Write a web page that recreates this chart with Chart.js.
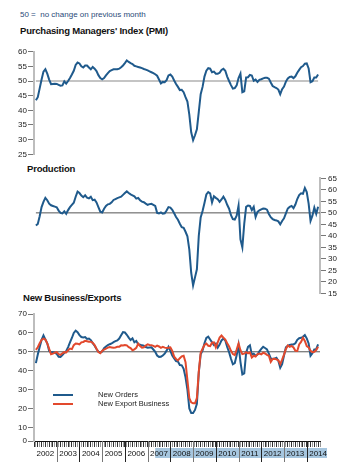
<!DOCTYPE html>
<html>
<head>
<meta charset="utf-8">
<script src="https://cdn.jsdelivr.net/npm/chart.js@4.4.1/dist/chart.umd.min.js"></script>
<style>
  body { margin: 0; width: 351px; height: 472px; position: relative; overflow: hidden; background: #fff;
         font-family: "Liberation Sans", Arial, sans-serif; }
  canvas { position: absolute; left: 0; }
  .t { position: absolute; white-space: nowrap; line-height: 1; }
  .title { font-weight: bold; font-size: 9.5px; letter-spacing: -0.2px; color: #111; }
  .note { font-size: 8px; color: #2b4a78; }
  .key { position: absolute; width: 20px; height: 2px; }
  .keytxt { position: absolute; white-space: nowrap; line-height: 1; font-size: 7.5px; color: #222; }
</style>
</head>
<body>
<div class="t note" style="left:20px;top:11px">50 = &nbsp;no change on previous month</div>
<div class="t title" style="left:20px;top:26px">Purchasing Managers' Index (PMI)</div>
<div class="t title" style="left:27px;top:164px">Production</div>
<div class="t title" style="left:23px;top:293px">New Business/Exports</div>

<canvas id="pmiChart" width="351" height="125" style="top:40px"></canvas>
<canvas id="prodChart" width="351" height="140" style="top:166px"></canvas>
<canvas id="nbChart" width="351" height="172" style="top:300px"></canvas>

<div class="key" style="left:53px;top:394px;background:#1f5a8c"></div>
<div class="keytxt" style="left:98px;top:391px">New Orders</div>
<div class="key" style="left:53px;top:403px;background:#e2492d"></div>
<div class="keytxt" style="left:98px;top:400px">New Export Business</div>

<script>
// months counted from Jan 2002 (0); series start Feb 2002
const firstMonth = 1;
const years = ["2002", "2003", "2004", "2005", "2006", "2007", "2008",
  "2009", "2010", "2011", "2012", "2013", "2014"];

const pmi = [
  43.4, 44.5, 47.5, 50.5, 53.2, 54, 52.5, 50.5, 48.9, 49,
  49.1, 49, 48.7, 48.4, 48.5, 49.9, 49.1, 50, 51, 52.2,
  53.5, 55.5, 56.3, 56, 55, 54.6, 55.3, 55.3, 54.6, 54,
  54.8, 54.2, 53.4, 52, 51, 50.6, 51, 51.9, 52.7, 53.4,
  53.7, 54, 54, 54, 54.2, 54.7, 55.3, 56.1, 57, 56.5,
  56.1, 55.8, 55.2, 55, 54.8, 54.6, 54.4, 54.1, 53.9, 53.6,
  53.3, 53, 52.7, 52.3, 51.8, 50.5, 49.2, 49.7, 49.6, 50.3,
  51.9, 52.2, 51.5, 50.2, 49, 48, 46.9, 47, 46.2, 44.5,
  43, 38.5, 32.5, 29.8, 31.5, 33.5, 39.5, 45.5, 48, 51.5,
  53.5, 54.4, 54.2, 53, 53.2, 52.5, 52.5, 52.8, 53.8, 54.2,
  53.5, 51.5, 50, 48.6, 47.4, 47.6, 48.5, 51, 52.5, 46.2,
  46.5, 51.2, 51.3, 52.1, 51.9, 50.1, 50.5, 49.7, 50.4, 50.6,
  50.9, 51.1, 51.1, 50.8, 49.5, 48.3, 47.9, 47.6, 47.1, 45.5,
  47.2, 48.1, 49.8, 50.9, 51.4, 51.5, 51, 51.6, 52.8, 53.8,
  54.7, 55.1, 55.9, 56, 54.3, 49.6, 49.9, 51.2, 51.2, 52.2,
];

const production = [
  44.5, 45.2, 48.5, 52.5, 54.8, 56.5, 55.5, 54, 53.3, 53,
  52.7, 52.4, 51, 50, 49.8, 50.7, 49.6, 51.2, 52.5, 53.5,
  54.4, 57, 59.2, 58.6, 57.5, 56.8, 57.6, 56.6, 56.3, 57,
  55.5, 55.7, 54.5, 52.5, 50.5, 50.2, 51.8, 53, 53.7, 53.9,
  54.6, 55.6, 56, 56.4, 56.7, 57, 57.8, 58.6, 59.3, 58.6,
  58, 57.6, 57.2, 56.2, 56.5, 55.5, 54.9, 54.6, 54, 53.5,
  53.8, 53.9, 53.5, 53, 50, 49.8, 50.2, 49.6, 49.8, 51,
  52.5, 52.3, 51.3, 49.8, 48.2, 47, 45.3, 43.8, 43.5, 41.8,
  39.8, 34, 24, 18.5, 22, 25.5, 40, 48, 50.8, 54.3,
  58, 59, 58.5, 54.5, 57.2, 56.5, 55.9, 54.8, 55.8, 57,
  55.6, 53.5, 51.8, 49, 47.3, 47.1, 48.8, 53.2, 38.5, 35,
  45.2, 52.6, 53.2, 53, 51.2, 52.6, 48.2, 50.4, 51.1, 51.5,
  51.9, 51.8, 51.4, 49.5, 48.1, 47.3, 46.9, 46.7, 46.3, 45,
  46.5, 47.6, 49.8, 51.9, 52.6, 53, 52, 53.6, 56, 57.7,
  58.5, 58.3, 60.8, 59, 54, 46.5, 48.8, 52.3, 49.6, 52.7,
];

const newOrders = [
  44, 48.5, 52.5, 56.3, 58.6, 56.5, 54.5, 50.5, 49.7, 49.7,
  49.5, 48.8, 47.4, 47.3, 48.2, 49.4, 50.3, 52.5, 55, 57.3,
  60, 61.2, 60.4, 58.8, 57.8, 57.6, 57.8, 56.8, 57, 56.2,
  54.6, 53.2, 51.5, 50, 49.5, 50.1, 51.9, 52.8, 53.5, 54,
  54.4, 55.1, 55.6, 56, 57, 58.7, 60.4, 60.2, 59, 57.5,
  56.2, 57.1, 55, 55.7, 54, 53.7, 53.4, 53.2, 52.5, 52.1,
  52.3, 52.4, 51.2, 50, 48, 47.3, 47.4, 48, 49, 50.6,
  52.6, 50.5, 48, 46.5, 45.1, 44.8, 43, 42.8, 41, 36.5,
  30, 20, 17.6, 17.6, 19.2, 22.5, 39, 48.6, 50.7, 54.5,
  57.3, 58, 56.5, 55, 53.5, 54.3, 52.2, 53.8, 56, 57,
  56, 52.5, 49.8, 46.3, 43.4, 44, 48.2, 53.6, 44.7, 38,
  38.6, 49.5, 52.6, 53.4, 48.5, 49, 47.9, 48.5, 50.2, 51.5,
  52.6, 52, 51.3, 49, 46.5, 46.2, 46.4, 46.8, 45.2, 41.5,
  43.5, 48, 52.3, 53.1, 53.6, 53.9, 53.9, 54.5, 56.3, 57.2,
  57.4, 57.9, 58.8, 57.1, 54.4, 47.9, 49.2, 51.3, 51.4, 53.9,
];

const newExports = [
  51, 52.4, 54.5, 56.3, 57, 56.5, 54.5, 51.5, 48.7, 49,
  49.5, 49.8, 48.7, 48.4, 49.2, 49.8, 49.7, 50.8, 51.7, 51.4,
  53.5, 54.4, 54.2, 53.9, 55, 55.2, 55.8, 55.6, 55.3, 55.3,
  54.7, 53.5, 51.6, 49.8, 49.2, 50.5, 51.2, 51.7, 52.2, 52.5,
  52.3, 52.1, 52.3, 52.6, 52.6, 53.4, 53.3, 53.6, 53.4, 52.4,
  51.9, 50.8, 51.3, 52.1, 54.3, 53, 52.2, 52.4, 53.3, 53.9,
  53.6, 53.5, 53.1, 52.6, 53.3, 52.8, 52.1, 52.6, 52.2, 52,
  52.1, 52.3, 50.5, 47.4, 46.2, 45.4, 46.6, 47.6, 47.9, 44.5,
  35, 25.5, 23.2, 22.7, 22.7, 25.5, 39.5, 49.5, 51.6, 53.6,
  54.3, 53.2, 53, 54.8, 55, 52.3, 55, 57.5, 58.6, 57.5,
  56.4, 54.5, 52.8, 50.5, 48.8, 48.3, 51.2, 54.4, 50.8, 48.8,
  49, 49.8, 49.2, 49.7, 47, 47.9, 47.5, 48.7, 49, 48.6,
  49.5, 49.1, 48.4, 47.9, 44.6, 46.2, 46.3, 46, 45.5, 43.5,
  45.8, 48.5, 51.5, 53.3, 52.6, 53.1, 52.3, 50.5, 50.4, 53.9,
  55.2, 57.4, 55.7, 53, 52.3, 50.5, 49.8, 50, 50.9, 52.6,
];

const noChange = 50;
const lastMonth = 151;
const shadeFrom = 64;
const shadeTo = 154.7;

Chart.defaults.font.family = '"Liberation Sans", Arial, sans-serif';
Chart.defaults.font.size = 8;
Chart.defaults.color = "#222";

const toPoints = (arr) => arr.map((v, i) => ({ x: firstMonth + i, y: v }));
const flat = (from, to) => [{ x: from, y: noChange }, { x: to, y: noChange }];

const line = (label, data, color, width, order) => ({
  label,
  data,
  borderColor: color,
  borderWidth: width,
  pointRadius: 0,
  tension: 0,
  order,
});

const yAxis = (min, max, position, width, step, pad, cb) => ({
  type: "linear",
  position,
  min,
  max,
  border: { color: "#bdbdbd", width: 2 },
  grid: { drawOnChartArea: false, tickLength: 6, color: "#777" },
  ticks: { stepSize: step, padding: pad, autoSkip: false, callback: cb },
  afterFit: (scale) => { scale.width = width; },
});

const hiddenX = { type: "linear", min: 0, max: lastMonth, display: false };

const baseOptions = (padding, scales) => ({
  responsive: false,
  animation: false,
  layout: { padding },
  plugins: { legend: { display: false }, tooltip: { enabled: false } },
  scales,
});

new Chart(document.getElementById("pmiChart"), {
  type: "line",
  data: {
    datasets: [
      line("PMI", toPoints(pmi), "#1f5a8c", 2, 0),
      line("50", flat(firstMonth, firstMonth + pmi.length - 1), "#c4c4c4", 2, 5),
    ],
  },
  options: baseOptions({ top: 11.7, bottom: 10.7, left: 0, right: 31 }, {
    x: hiddenX,
    y: yAxis(25, 60, "left", 34, 5, 1),
  }),
});

new Chart(document.getElementById("prodChart"), {
  type: "line",
  data: {
    datasets: [
      line("Production", toPoints(production), "#1f5a8c", 2, 0),
      line("50", flat(firstMonth, lastMonth), "#555", 1, 5),
    ],
  },
  options: baseOptions({ top: 12.3, bottom: 12.5, left: 34, right: 0 }, {
    x: hiddenX,
    y: yAxis(15, 65, "right", 31, 5, 2),
  }),
});

const yearBoxes = {
  id: "yearBoxes",
  beforeDraw(chart) {
    const { ctx, chartArea, scales: { x } } = chart;
    const l = x.getPixelForValue(shadeFrom);
    const r = x.getPixelForValue(shadeTo);
    ctx.save();
    ctx.fillStyle = "#a6c6df";
    ctx.fillRect(l, chartArea.bottom + 7, r - l, 10);
    ctx.restore();
  },
  afterDraw(chart) {
    const { ctx, chartArea, scales: { x } } = chart;
    ctx.save();
    ctx.lineWidth = 1;
    for (let m = 12; m < lastMonth; m += 12) {
      const px = Math.round(x.getPixelForValue(m)) + 0.5;
      ctx.strokeStyle = (m / 12) % 2 ? "#777" : "#222";
      ctx.beginPath();
      ctx.moveTo(px, chartArea.bottom);
      ctx.lineTo(px, chartArea.bottom + 21);
      ctx.stroke();
    }
    ctx.restore();
  },
};

new Chart(document.getElementById("nbChart"), {
  type: "line",
  data: {
    datasets: [
      line("New Orders", toPoints(newOrders), "#1f5a8c", 2, 1),
      line("New Export Business", toPoints(newExports), "#e2492d", 2, 0),
      line("50", flat(0, lastMonth), "#555", 1, 5),
    ],
  },
  options: baseOptions({ top: 14, bottom: 0, left: 0, right: 31 }, {
    x: {
      type: "linear",
      min: 0,
      max: lastMonth,
      border: { color: "#111", width: 1 },
      grid: {
        drawOnChartArea: false,
        tickLength: 6,
        tickColor: (c) => (c.tick && c.tick.value % 2 ? "#999" : "#333"),
      },
      ticks: {
        autoSkip: false,
        maxRotation: 0,
        padding: 2,
        color: "#111",
        callback: (v) => (v % 12 === 6 ? years[(v - 6) / 12] : ""),
      },
      afterBuildTicks: (scale) => {
        scale.ticks = Array.from({ length: lastMonth + 1 }, (_, i) => ({ value: i }));
      },
      afterFit: (scale) => { scale.height = 31; },
    },
    y: yAxis(2.75, 70, "left", 34, 10, 1, (v) => (v < 10 ? "0" : v)),
  }),
  plugins: [yearBoxes],
});
</script>
</body>
</html>
